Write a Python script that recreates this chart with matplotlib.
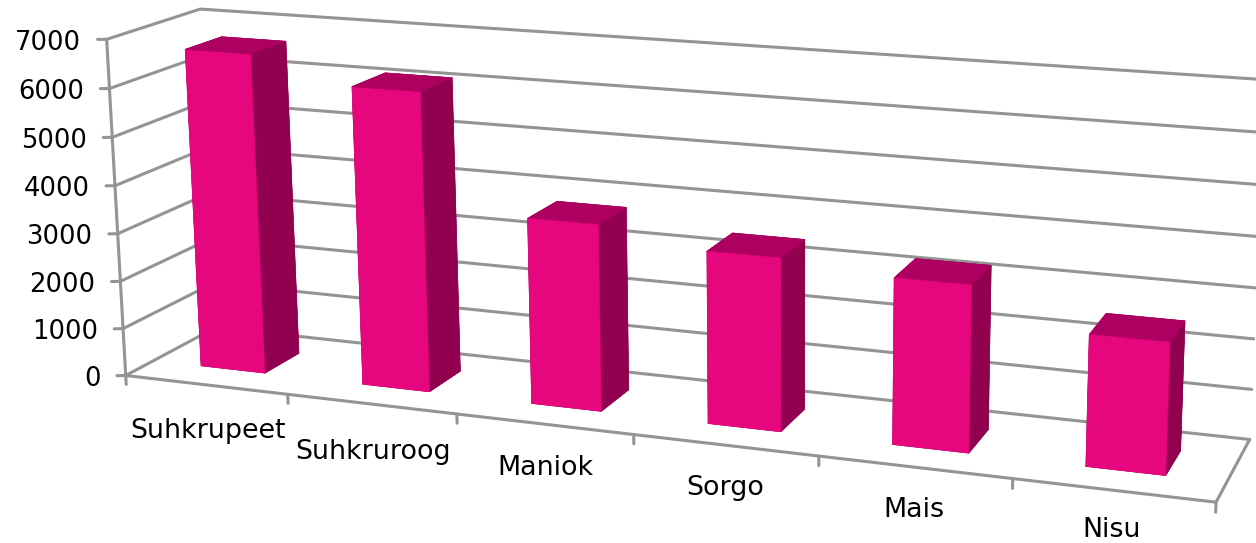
import numpy as np
import matplotlib
matplotlib.use("Agg")
import matplotlib.pyplot as plt
from matplotlib.axes import Axes
from mpl_toolkits.mplot3d import proj3d
from mpl_toolkits.mplot3d.art3d import Line3DCollection

categories = ["Suhkrupeet", "Suhkruroog", "Maniok", "Sorgo", "Mais", "Nisu"]
values = [6670, 6160, 3790, 3460, 3280, 2550]
value_ticks = [0, 1000, 2000, 3000, 4000, 5000, 6000, 7000]

FRONT, TOP, SIDE = "#E6067E", "#AE0060", "#920050"
GRID = "#949494"
W, H = 1256, 543
LABEL_DROP = [-985, -1000, -900, -860, -840, -760]

# Camera calibration: (category pos, depth, value) -> image pixel
cal = [
    (0, 0, 0, 126, 376), (6, 0, 0, 1216, 502), (6, 1, 0, 1250, 440),
    (0, 1, 0, 217, 327), (1, 0, 0, 288, 395), (0, 0, 7000, 107, 39),
    (0, 1, 7000, 200, 9), (6, 1, 7000, 1264, 80),
    (.3, .3, 0, 201, 366), (.7, .3, 0, 264, 373), (.7, .7, 0, 298, 353),
    (5.3, .3, 0, 1086, 466), (5.7, .3, 0, 1166, 475), (5.7, .7, 0, 1180, 451),
]
A, b = [], []
for X, Y, Z, u, v in cal:
    A.append([X, Y, Z, 1, 0, 0, 0, 0, -u * X, -u * Y, -u * Z]); b.append(u)
    A.append([0, 0, 0, 0, X, Y, Z, 1, -v * X, -v * Y, -v * Z]); b.append(v)
A = np.array(A, float)
scale = np.abs(A).max(axis=0)
sol = np.linalg.lstsq(A / scale, np.array(b, float), rcond=None)[0] / scale
P1, P2, P3 = sol[:4], sol[4:8], np.r_[sol[8:], 1.0]
M = np.array([P1, P2, [0, 0, 0, -1.0], P3])

fig = plt.figure(figsize=(W / 100, H / 100), dpi=100)
ax = fig.add_axes([0, 0, 1, 1], projection="3d", computed_zorder=False)
ax.set_axis_off()
ax.patch.set_alpha(0)
ax.get_proj = lambda: M
ax.apply_aspect = lambda position=None: None
ax.viewLim.intervalx = (0, W)
ax.viewLim.intervaly = (H, 0)


def label(x, y, z, s, ha, fs):
    px, py, _ = proj3d.proj_transform(x, y, z, M)
    Axes.text(ax, float(px), float(py), s, ha=ha, va="center", fontsize=fs, color="black")


n = len(categories)
segments = []
for t in value_ticks:
    segments.append([(0, 0, t), (0, 1, t), (n, 1, t)])
    segments.append([(0, 0, t), (-0.044, -0.019, t)])
    label(-0.125, -0.057, t - 60, str(t), "right", 18.6)
segments.append([(0, 0, 0), (0, 0, value_ticks[-1])])
segments.append([(0, 0, 0), (n, 0, 0), (n, 1, 0)])
for k in range(n + 1):
    segments.append([(k, 0, 0), (k, 0, -190)])
for i, name in enumerate(categories):
    label(i + 0.5, 0, LABEL_DROP[i], name, "center", 19.4)

ax.add_collection3d(Line3DCollection(segments, colors=GRID, linewidths=2.2, zorder=1,
                                     capstyle="round", joinstyle="miter"), autolim=False)

# faces: bottom, top, front, back, left, right
face_colors = [TOP, TOP, FRONT, SIDE, SIDE, SIDE] * n
ax.bar3d(np.arange(n) + 0.3, np.full(n, 0.3), np.zeros(n), 0.4, 0.4, values,
         color=face_colors, edgecolors=face_colors, linewidth=0.4, shade=False, zorder=3)

fig.savefig("out.png", dpi=100)
